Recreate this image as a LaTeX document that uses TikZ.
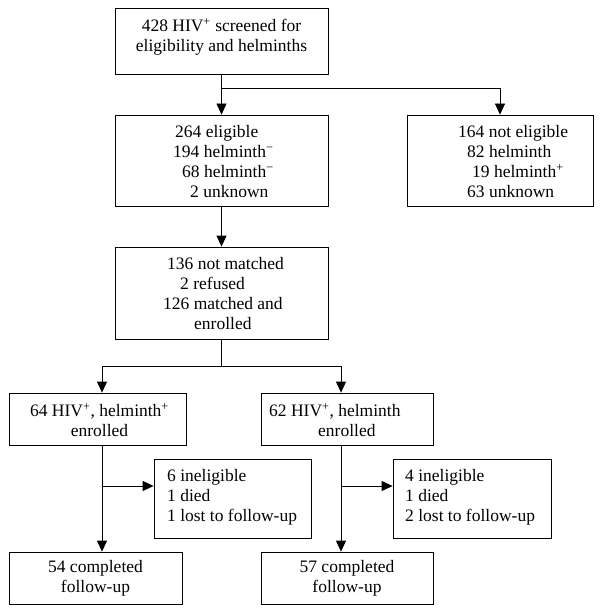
\documentclass[tikz,border=0pt]{standalone}
\usepackage{fontspec}
\setmainfont{Liberation Serif}
\usetikzlibrary{arrows.meta}
\newcommand{\supr}[1]{\textsuperscript{#1}}
\begin{document}
\begin{tikzpicture}[x=1pt,y=-1pt,
  box/.style={draw, line width=0.8pt, inner sep=0pt, minimum width=#1},
  txt/.style={inner sep=0pt, font=\fontsize{17.5}{20}\selectfont},
  conn/.style={line width=0.8pt},
  arr/.style={line width=0.8pt, -{Triangle[width=10pt,length=11pt]}}]
\useasboundingbox (0,0) rectangle (601,615);
\fill[white] (0,0) rectangle (601,615);

% boxes
\node[box=213pt, minimum height=66pt] (top) at (221.5,41) {};
\node[box=213pt, minimum height=91pt] (el) at (221.5,160.5) {};
\node[box=186pt, minimum height=91pt] (ne) at (500,160.5) {};
\node[box=213pt, minimum height=92pt] (mt) at (221.5,293) {};
\node[box=177pt, minimum height=52pt] (A) at (97.5,419) {};
\node[box=172pt, minimum height=52pt] (B) at (347,419) {};
\node[box=157pt, minimum height=79pt] (S1) at (232.5,498.5) {};
\node[box=158pt, minimum height=79pt] (S2) at (472,498.5) {};
\node[box=173pt, minimum height=52pt] (C) at (95.5,578) {};
\node[box=172pt, minimum height=52pt] (D) at (347,578) {};

% texts
\node[txt, align=center] (ttop) at (221.5,37) {428 HIV\supr{+} screened for\\eligibility and helminths};
\node[txt, align=left, anchor=west] (tel) at (173,162) {\hspace*{2pt}264 eligible\\194 helminth\supr{−}\\\hspace*{9pt}68 helminth\supr{−}\\\hspace*{17pt}2 unknown};
\node[txt, align=left, anchor=west] (tne) at (458,162) {164 not eligible\\\hspace*{9pt}82 helminth\\\hspace*{14pt}19 helminth\supr{+}\\\hspace*{9pt}63 unknown};
\node[txt, align=left, anchor=west] (tmt) at (163,293.5) {\hspace*{4pt}136 not matched\\\hspace*{17pt}2 refused\\126 matched and\\\hspace*{31pt}enrolled};
\node[txt, align=center] (tA) at (99.5,420) {64 HIV\supr{+}, helminth\supr{+}\\enrolled};
\node[txt, align=left, anchor=west] (tB) at (269,420) {62 HIV\supr{+}, helminth\\\hspace*{49pt}enrolled};
\node[txt, align=left, anchor=west] (tS1) at (167,497) {6 ineligible\\1 died\\1 lost to follow-up};
\node[txt, align=left, anchor=west] (tS2) at (405,497) {4 ineligible\\1 died\\2 lost to follow-up};
\node[txt, align=center] (tC) at (95.5,578.5) {54 completed\\follow-up};
\node[txt, align=center] (tD) at (347,578.5) {57 completed\\follow-up};

% connectors
\coordinate (j1) at (221.5,88);
\draw[conn] (top.south) -- (j1);
\draw[arr] (j1) -- (el.north);
\draw[arr] (j1) -| (ne.north);
\draw[arr] (el.south) -- (mt.north);
\coordinate (j2) at (221.5,366);
\coordinate (jl) at (102,366);
\coordinate (jr) at (341,366);
\draw[conn] (mt.south) -- (j2);
\draw[conn] (jl) -- (jr);
\draw[arr] (jl) -- (jl |- A.north);
\draw[arr] (jr) -- (jr |- B.north);
\draw[arr] (jl |- A.south) -- (jl |- C.north);
\draw[arr] (jr |- B.south) -- (jr |- D.north);
\coordinate (bl) at (102,486);
\coordinate (br) at (341,486);
\draw[arr] (bl) -- (bl -| S1.west);
\draw[arr] (br) -- (br -| S2.west);
\end{tikzpicture}
\end{document}
